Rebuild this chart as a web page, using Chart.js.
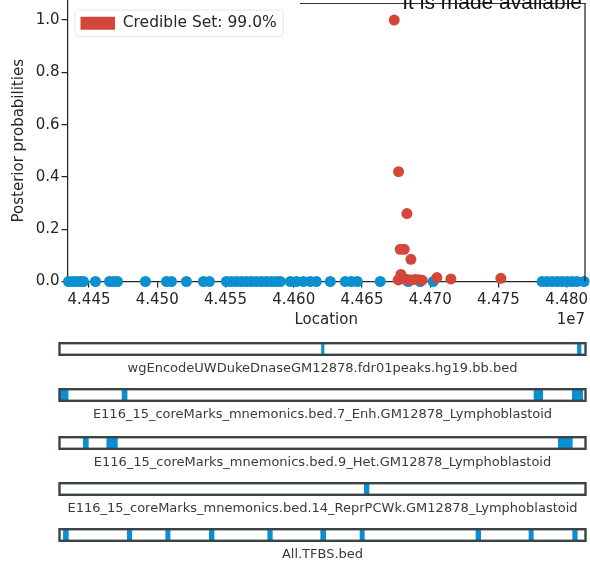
<!DOCTYPE html>
<html>
<head>
<meta charset="utf-8">
<script src="https://cdn.jsdelivr.net/npm/chart.js@4.4.1/dist/chart.umd.min.js"></script>
<style>
  html, body { margin: 0; padding: 0; background: #fff; }
  #wrap { position: relative; width: 590px; height: 565px; overflow: hidden; font-family: 'DejaVu Sans', sans-serif; }
  #main { position: absolute; left: 0; top: 0; }
  .track { position: absolute; left: 0; }
  .track-label { position: absolute; left: 58px; width: 529px; text-align: center; font-size: 13px; line-height: 16px; color: #3a3a3a; white-space: nowrap; }
  #offset { position: absolute; right: 5px; top: 310px; font-size: 15px; line-height: 18px; color: #262626; }
  #header { position: absolute; right: 8px; top: -9.5px; font-family: 'Liberation Sans', Arial, sans-serif; font-size: 21px; line-height: 21px; color: #111; white-space: nowrap; }
  #header-rule { position: absolute; left: 300px; width: 286px; top: 3px; border-top: 1px solid #333; }
</style>
</head>
<body>
<div id="wrap">
  <canvas id="main" width="590" height="335"></canvas>
  <div id="header-rule"></div>
  <div id="header">It is made available</div>
  <div id="offset">1e7</div>
</div>
<script>
// --- data ---
const xMin = 44434250;
const xMax = 44813420;
const xTicks = [44450000, 44500000, 44550000, 44600000, 44650000, 44700000, 44750000, 44800000];
const yTicks = [0, 0.2, 0.4, 0.6, 0.8, 1.0];

// variants in the 99% credible set
const credibleLoc = [44673650, 44676800, 44682940, 44678040, 44680970, 44685870, 44678550,
    44676570, 44680230, 44683160, 44686090, 44689020, 44691950, 44694140, 44704900, 44715150, 44751750];
const crediblePost = [1.0, 0.42, 0.26, 0.123, 0.123, 0.085, 0.027,
    0.006, 0.01, 0.008, 0.006, 0.008, 0.007, 0.005, 0.015, 0.01, 0.012];

// other variants
const otherLoc = [44434990, 44437920, 44440850, 44443780, 44445970, 44454760, 44465010, 44467940,
    44470860, 44491360, 44506740, 44510400, 44521380, 44533820, 44538210, 44550660, 44554320,
    44557980, 44561640, 44565300, 44568960, 44572620, 44576280, 44579940, 44583600, 44587260,
    44590190, 44597510, 44601900, 44607030, 44612150, 44616550, 44626790, 44637780, 44642170,
    44646560, 44663400, 44683890, 44692680, 44702200, 44781990, 44785650, 44789310, 44792970,
    44796630, 44800290, 44803950, 44807610, 44812740];
const otherPost = [0, 0, 0, 0, 0, 0, 0, 0, 0, 0, 0, 0, 0, 0, 0, 0, 0, 0, 0, 0, 0, 0, 0, 0, 0,
    0, 0, 0, 0, 0, 0, 0, 0, 0, 0, 0, 0, 0, 0, 0, 0, 0, 0, 0, 0, 0, 0, 0, 0];

// annotation tracks: [start, end] of each feature
const trackNames = [
    'wgEncodeUWDukeDnaseGM12878.fdr01peaks.hg19.bb.bed',
    'E116_15_coreMarks_mnemonics.bed.7_Enh.GM12878_Lymphoblastoid',
    'E116_15_coreMarks_mnemonics.bed.9_Het.GM12878_Lymphoblastoid',
    'E116_15_coreMarks_mnemonics.bed.14_ReprPCWk.GM12878_Lymphoblastoid',
    'All.TFBS.bed'
];
const dnaseFeatures = [[44623130, 44624930], [44807630, 44810160]];
const enhFeatures = [[44434660, 44440430], [44479350, 44482950], [44776280, 44782550], [44803890, 44811380]];
const hetFeatures = [[44451450, 44455060], [44468320, 44475960], [44793800, 44803890]];
const reprFeatures = [[44653980, 44657360]];
const tfbsFeatures = [[44437040, 44440640], [44483170, 44486340], [44510840, 44513940], [44542260, 44545650],
    [44584350, 44587670], [44622550, 44626150], [44650880, 44653980], [44734480, 44737870],
    [44772680, 44775780], [44804170, 44807490]];
const trackFeatures = [dnaseFeatures, enhFeatures, hetFeatures, reprFeatures, tfbsFeatures];

const red = '#d4463a';
const blue = '#0a8fd0';
const ink = '#262626';

Chart.defaults.font.family = "'DejaVu Sans', sans-serif";
Chart.defaults.color = ink;

// light matplotlib-style frame behind the legend + right spine
const plotDecor = {
    id: 'plotDecor',
    afterLayout(chart) {
        // nudge the in-plot legend down a little, like matplotlib's borderaxespad
        if (chart.legend) chart.legend.top += 2.5;
    },
    beforeDraw(chart) {
        const box = chart.legend && chart.legend.legendHitBoxes && chart.legend.legendHitBoxes[0];
        if (!box) return;
        const ctx = chart.ctx;
        ctx.save();
        ctx.fillStyle = 'rgba(255,255,255,0.8)';
        ctx.strokeStyle = '#e6e6e6';
        ctx.lineWidth = 1;
        ctx.beginPath();
        ctx.roundRect(box.left - 5.5, box.top - 5.5, box.width + 12, box.height + 11, 3);
        ctx.fill();
        ctx.stroke();
        ctx.restore();
    },
    afterDraw(chart) {
        const a = chart.chartArea;
        const ctx = chart.ctx;
        ctx.save();
        ctx.strokeStyle = ink;
        ctx.lineWidth = 1.25;
        ctx.beginPath();
        ctx.moveTo(a.right, 3);
        ctx.lineTo(a.right, a.bottom);
        ctx.stroke();
        ctx.restore();
    }
};

new Chart(document.getElementById('main'), {
    type: 'scatter',
    data: {
        datasets: [{
            label: 'Credible Set: 99.0%',
            data: credibleLoc.map((x, i) => ({ x: x, y: crediblePost[i] })),
            backgroundColor: red,
            borderColor: red,
            borderWidth: 0,
            pointRadius: 5.5,
            clip: false
        }, {
            label: 'other',
            data: otherLoc.map((x, i) => ({ x: x, y: otherPost[i] })),
            backgroundColor: blue,
            borderColor: blue,
            borderWidth: 0,
            pointRadius: 5.5,
            clip: false
        }]
    },
    options: {
        responsive: false,
        animation: false,
        layout: { autoPadding: false, padding: { left: 0, right: 5, top: 0, bottom: 0 } },
        scales: {
            x: {
                type: 'linear',
                min: xMin,
                max: xMax,
                afterBuildTicks: (s) => { s.ticks = xTicks.map(v => ({ value: v })); },
                afterFit: (s) => { s.height = 53.5; s.paddingLeft = 0; s.paddingRight = 0; },
                ticks: {
                    callback: (v) => (v / 1e7).toFixed(3),
                    font: { size: 15 },
                    color: ink,
                    padding: 4,
                    maxRotation: 0
                },
                grid: { drawOnChartArea: false, drawTicks: true, tickLength: 6, color: ink, lineWidth: 1.25 },
                border: { display: true, color: ink, width: 1.25 },
                title: { display: true, text: 'Location', font: { size: 15 }, color: ink, padding: { top: 0, bottom: 6 } }
            },
            y: {
                type: 'linear',
                min: 0,
                max: 1.0766,
                afterBuildTicks: (s) => { s.ticks = yTicks.map(v => ({ value: v })); },
                afterFit: (s) => { s.width = 67.5; s.paddingTop = 0; s.paddingBottom = 0; },
                ticks: {
                    callback: (v) => v.toFixed(1),
                    font: { size: 15 },
                    color: ink,
                    padding: 2
                },
                grid: { drawOnChartArea: false, drawTicks: true, tickLength: 6, color: ink, lineWidth: 1.25 },
                border: { display: true, color: ink, width: 1.25 },
                title: { display: true, text: 'Posterior probabilities', font: { size: 15 }, color: ink, padding: { top: 10, bottom: 0 } }
            }
        },
        plugins: {
            legend: {
                position: 'chartArea',
                align: 'start',
                labels: {
                    boxWidth: 34.5,
                    boxHeight: 13,
                    padding: 13,
                    color: ink,
                    font: { size: 15.5 },
                    filter: (item) => item.datasetIndex === 0
                }
            },
            tooltip: { enabled: false }
        }
    },
    plugins: [plotDecor]
});

// --- annotation tracks ---
const trackTops = [342.3, 387.8, 435.7, 481.7, 528.3];

const trackFrame = {
    id: 'trackFrame',
    afterDatasetsDraw(chart) {
        const a = chart.chartArea;
        const ctx = chart.ctx;
        ctx.save();
        ctx.strokeStyle = '#3c4346';
        ctx.lineWidth = 2.4;
        ctx.strokeRect(a.left, a.top, a.right - a.left, a.bottom - a.top);
        ctx.restore();
    }
};

const wrap = document.getElementById('wrap');
trackFeatures.forEach((feats, i) => {
    const canvas = document.createElement('canvas');
    canvas.className = 'track';
    canvas.width = 590;
    canvas.height = 24;
    canvas.style.top = (trackTops[i] - 5) + 'px';
    wrap.appendChild(canvas);

    const label = document.createElement('div');
    label.className = 'track-label';
    label.style.top = (trackTops[i] + 18) + 'px';
    label.textContent = trackNames[i];
    wrap.appendChild(label);

    new Chart(canvas, {
        type: 'bar',
        data: {
            labels: [trackNames[i]],
            datasets: [{
                data: feats.map(f => ({ x: f, y: trackNames[i] })),
                backgroundColor: blue,
                borderWidth: 0,
                barPercentage: 1,
                categoryPercentage: 1,
                grouped: false
            }]
        },
        options: {
            indexAxis: 'y',
            responsive: false,
            animation: false,
            layout: { autoPadding: false, padding: { left: 59.5, right: 4.5, top: 6.2, bottom: 6.2 } },
            scales: {
                x: { type: 'linear', display: false, min: xMin, max: xMax },
                y: { display: false }
            },
            plugins: { legend: { display: false }, tooltip: { enabled: false } }
        },
        plugins: [trackFrame]
    });
});
</script>
</body>
</html>
